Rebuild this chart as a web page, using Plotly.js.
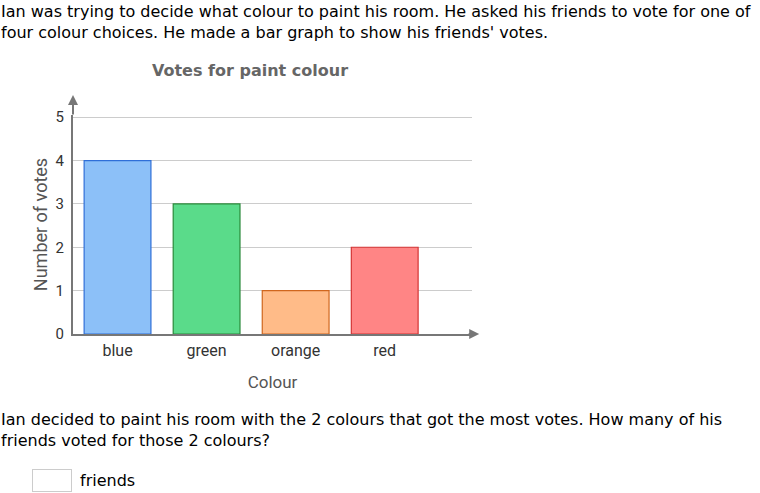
<!DOCTYPE html>
<html>
<head>
<meta charset="utf-8">
<script src="https://cdn.plot.ly/plotly-3.0.1.min.js"></script>
<style>
  html, body { margin: 0; padding: 0; background: #fff; width: 760px; height: 493px; overflow: hidden; }
  .p1 { position: absolute; left: 1px; top: 1px; white-space: nowrap; font-family: "DejaVu Sans", Verdana, sans-serif; font-size: 16px; line-height: 21px; color: #000; margin: 0; }
  .p2 { position: absolute; left: 1px; top: 409px; white-space: nowrap; font-family: "DejaVu Sans", Verdana, sans-serif; font-size: 16px; line-height: 21px; color: #000; margin: 0; }
  #chart { position: absolute; left: 0; top: 60px; width: 500px; height: 340px; }
  .ans { position: absolute; left: 32px; top: 469px; width: 40px; height: 23px; border: 1px solid #ccc; box-sizing: border-box; }
  .unit { position: absolute; left: 80px; top: 471px; font-family: "DejaVu Sans", Verdana, sans-serif; font-size: 16px; color: #000; }
</style>
</head>
<body>
<p class="p1">Ian was trying to decide what colour to paint his room. He asked his friends to vote for one of<br>four colour choices. He made a bar graph to show his friends' votes.</p>
<div id="chart"></div>
<p class="p2">Ian decided to paint his room with the 2 colours that got the most votes. How many of his<br>friends voted for those 2 colours?</p>
<div class="ans"></div>
<div class="unit">friends</div>
<script>
const categories = ["blue", "green", "orange", "red"];
const votes = [4, 3, 1, 2];
const fillColors = ["#8cc0f8", "#5adb8a", "#ffbb88", "#ff8585"];
const lineColors = ["#2f6fd8", "#2a8a3a", "#d0661e", "#d43535"];
const yTicks = [0, 1, 2, 3, 4, 5];

const trace = {
  type: "bar",
  x: categories,
  y: votes,
  width: 0.75,
  marker: { color: fillColors, line: { color: lineColors, width: 1.2 } },
  hoverinfo: "none"
};

const plotH = 340 - 55 - 66;
const layout = {
  width: 500, height: 340,
  margin: { l: 73, r: 28, t: 55, b: 66 },
  paper_bgcolor: "#fff", plot_bgcolor: "#fff",
  showlegend: false,
  font: { family: "Roboto, sans-serif", size: 15, color: "#333" },
  title: { text: "<b>Votes for paint colour</b>", x: 0.5, xref: "container", y: 1 - 10/340, yref: "container", yanchor: "middle",
           font: { family: "DejaVu Sans, Verdana, sans-serif", size: 16, color: "#666" } },
  xaxis: {
    type: "category", range: [-0.5, 3.98],
    showline: true, linecolor: "#777", linewidth: 2,
    showgrid: false, zeroline: false, ticks: "", ticklabelstandoff: 1,
    tickfont: { size: 16, color: "#333" },
    title: { text: "Colour", font: { size: 17, color: "#555" }, standoff: 17 }
  },
  yaxis: {
    range: [0, 5.05], tickvals: yTicks, ticktext: yTicks.map(String),
    showline: true, linecolor: "#777", linewidth: 2,
    showgrid: true, gridcolor: "#ccc", gridwidth: 1, zeroline: false,
    ticks: "", ticklabelstandoff: 4,
    tickfont: { size: 15, color: "#333" },
    title: { text: "Number of votes", font: { size: 18, color: "#555" }, standoff: 3 }
  },
  annotations: [
    { xref: "paper", yref: "paper", x: 1.018, y: 0, ax: -12, ay: 0, text: "", showarrow: true,
      arrowhead: 2, arrowsize: 1, arrowwidth: 2, arrowcolor: "#777" },
    { xref: "paper", yref: "paper", x: 0, y: 1 + 20/plotH, ax: 0, ay: 21, text: "", showarrow: true,
      arrowhead: 2, arrowsize: 1, arrowwidth: 2, arrowcolor: "#777" }
  ]
};

Plotly.newPlot("chart", [trace], layout, { displayModeBar: false, staticPlot: true });
</script>
</body>
</html>
